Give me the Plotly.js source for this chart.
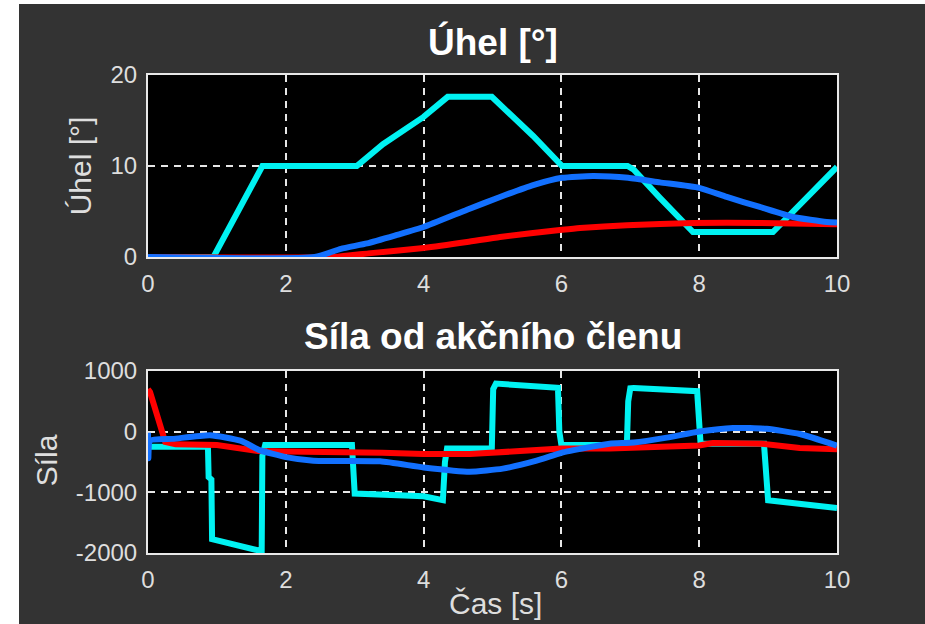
<!DOCTYPE html>
<html>
<head>
<meta charset="utf-8">
<script src="https://cdn.plot.ly/plotly-3.0.1.min.js"></script>
<style>
  html, body { margin: 0; padding: 0; background: #ffffff; width: 925px; height: 624px; overflow: hidden; }
  #chart { position: absolute; left: 19px; top: 4px; width: 906px; height: 620px; }
</style>
</head>
<body>
<div id="chart"></div>
<script>
// ---- Top panel: Úhel [°] ----
const angleCyanT = [0, 0.95, 1.66, 3.03, 3.41, 4.0, 4.35, 4.99, 5.59, 6.01, 6.96, 7.05, 7.43, 7.91, 9.07, 10];
const angleCyanV = [0, 0, 10, 10, 12.4, 15.4, 17.6, 17.6, 13.3, 10, 10, 9.6, 6.5, 2.75, 2.75, 9.9];

const angleBlueT = [0, 2.42, 2.8, 3.18, 3.6, 4.0, 4.63, 5.11, 5.59, 6.01, 6.46, 6.97, 7.43, 8.0, 8.4, 8.88, 9.36, 9.85, 10];
const angleBlueV = [0, 0, 0.9, 1.5, 2.4, 3.3, 5.2, 6.6, 7.9, 8.7, 8.9, 8.7, 8.2, 7.6, 6.6, 5.5, 4.4, 3.85, 3.8];

const angleRedT = [0, 2.7, 3.2, 4.0, 4.63, 5.11, 6.01, 6.27, 6.95, 7.91, 8.88, 10];
const angleRedV = [0, 0, 0.4, 1.0, 1.65, 2.2, 3.0, 3.2, 3.5, 3.75, 3.75, 3.6];

// ---- Bottom panel: Síla od akčního členu ----
const forceCyanT = [0, 0.87, 0.88, 0.92, 0.93, 1.58, 1.65, 1.66, 1.70, 2.96, 2.98, 3.0, 4.0, 4.28, 4.31, 4.34, 4.99, 5.01, 5.05, 5.95, 5.97, 6.0, 6.95, 6.97, 7.0, 7.05, 7.97, 8.0, 8.02, 8.94, 8.96, 9.0, 10];
const forceCyanV = [-250, -250, -750, -790, -1770, -1950, -1970, -400, -220, -220, -560, -1020, -1065, -1130, -500, -280, -280, 700, 790, 720, 0, -220, -220, 500, 715, 720, 665, 0, -200, -200, -600, -1130, -1260];

const forceBlueT = [0, 0.005, 0.03, 0.36, 0.9, 1.34, 1.63, 2.0, 2.4, 3.37, 4.0, 4.67, 5.15, 5.64, 6.0, 6.37, 6.7, 7.05, 7.53, 8.0, 8.49, 8.98, 9.46, 10];
const forceBlueV = [-20, -440, -150, -120, -60, -150, -310, -420, -480, -490, -590, -660, -610, -480, -350, -265, -200, -180, -100, 0, 60, 45, -40, -230];

const forceRedT = [0, 0.03, 0.25, 0.4, 1.0, 1.3, 1.6, 2.0, 2.8, 3.4, 4.0, 4.67, 5.4, 6.0, 6.7, 7.5, 8.0, 8.2, 8.9, 9.46, 10];
const forceRedV = [700, 650, -170, -210, -220, -270, -320, -330, -330, -350, -370, -370, -320, -280, -280, -260, -230, -190, -200, -270, -290];

// ---- Ticks and texts ----
const xTicks = [0, 2, 4, 6, 8, 10];
const xTickText = ['0', '2', '4', '6', '8', '10'];
const angleTicks = [0, 10, 20];
const angleTickText = ['0', '10', '20'];
const forceTicks = [-2000, -1000, 0, 1000];
const forceTickText = ['-2000', '-1000', '0', '1000'];
const titleTop = 'Úhel [°]';
const titleBottom = 'Síla od akčního členu';
const yTitleTop = 'Úhel [°]';
const yTitleBottom = 'Síla';
const xTitle = 'Čas [s]';

const cCyan = '#00f2f2', cBlue = '#1270ff', cRed = '#ff0000';
const lw = 6;

function line(x, y, color, xa, ya, smooth) {
  const ln = { color: color, width: lw };
  if (smooth) { ln.shape = 'spline'; ln.smoothing = 0.5; }
  return { x: x, y: y, type: 'scatter', mode: 'lines', xaxis: xa, yaxis: ya,
           line: ln, hoverinfo: 'skip', showlegend: false };
}

const data = [
  line(angleCyanT, angleCyanV, cCyan, 'x', 'y', false),
  line(angleRedT, angleRedV, cRed, 'x', 'y', true),
  line(angleBlueT, angleBlueV, cBlue, 'x', 'y', true),
  line(forceCyanT, forceCyanV, cCyan, 'x2', 'y2', false),
  line(forceRedT, forceRedV, cRed, 'x2', 'y2', false),
  line(forceBlueT, forceBlueV, cBlue, 'x2', 'y2', true)
];

const tickFont = { family: 'Liberation Sans, Arial, sans-serif', size: 24, color: '#dedede' };
const axisCommon = {
  showgrid: true, gridcolor: '#e6e6e6', gridwidth: 2, griddash: '7px,6px',
  showline: true, linecolor: '#e8e8e8', linewidth: 2, mirror: true,
  zeroline: false, ticks: '', tickfont: tickFont, fixedrange: true, tickmode: 'array'
};

const layout = {
  width: 906, height: 620,
  margin: { l: 129, r: 88, t: 71, b: 71 },
  paper_bgcolor: '#333333', plot_bgcolor: '#000000',
  xaxis: Object.assign({}, axisCommon, { domain: [0, 1], anchor: 'y', range: [0, 10], tickvals: xTicks, ticktext: xTickText, ticklabelstandoff: 4 }),
  yaxis: Object.assign({}, axisCommon, { domain: [0.6192, 1], anchor: 'x', range: [0, 20], tickvals: angleTicks, ticktext: angleTickText, ticklabelstandoff: 4 }),
  xaxis2: Object.assign({}, axisCommon, { domain: [0, 1], anchor: 'y2', range: [0, 10], tickvals: xTicks, ticktext: xTickText, ticklabelstandoff: 4 }),
  yaxis2: Object.assign({}, axisCommon, { domain: [0, 0.381], anchor: 'x2', range: [-2000, 1000], tickvals: forceTicks, ticktext: forceTickText, ticklabelstandoff: 4 }),
  annotations: [
    { text: '<b>' + titleTop + '</b>', xref: 'paper', yref: 'paper', x: 0.5, y: 1.069, xanchor: 'center', yanchor: 'middle', showarrow: false,
      font: { family: 'Liberation Sans, Arial, sans-serif', size: 37, color: '#ffffff' } },
    { text: '<b>' + titleBottom + '</b>', xref: 'paper', yref: 'paper', x: 0.5, y: 0.452, xanchor: 'center', yanchor: 'middle', showarrow: false,
      font: { family: 'Liberation Sans, Arial, sans-serif', size: 37, color: '#ffffff' } },
    { text: yTitleTop, xref: 'paper', yref: 'paper', x: -0.0986, y: 0.809, xanchor: 'center', yanchor: 'middle', textangle: -90, showarrow: false,
      font: { family: 'Liberation Sans, Arial, sans-serif', size: 30, color: '#dedede' } },
    { text: yTitleBottom, xref: 'paper', yref: 'paper', x: -0.148, y: 0.194, xanchor: 'center', yanchor: 'middle', textangle: -90, showarrow: false,
      font: { family: 'Liberation Sans, Arial, sans-serif', size: 30, color: '#dedede' } },
    { text: xTitle, xref: 'paper', yref: 'paper', x: 0.5044, y: -0.105, xanchor: 'center', yanchor: 'middle', showarrow: false,
      font: { family: 'Liberation Sans, Arial, sans-serif', size: 30, color: '#dedede' } }
  ]
};

Plotly.newPlot('chart', data, layout, { displayModeBar: false, staticPlot: true });
</script>
</body>
</html>
